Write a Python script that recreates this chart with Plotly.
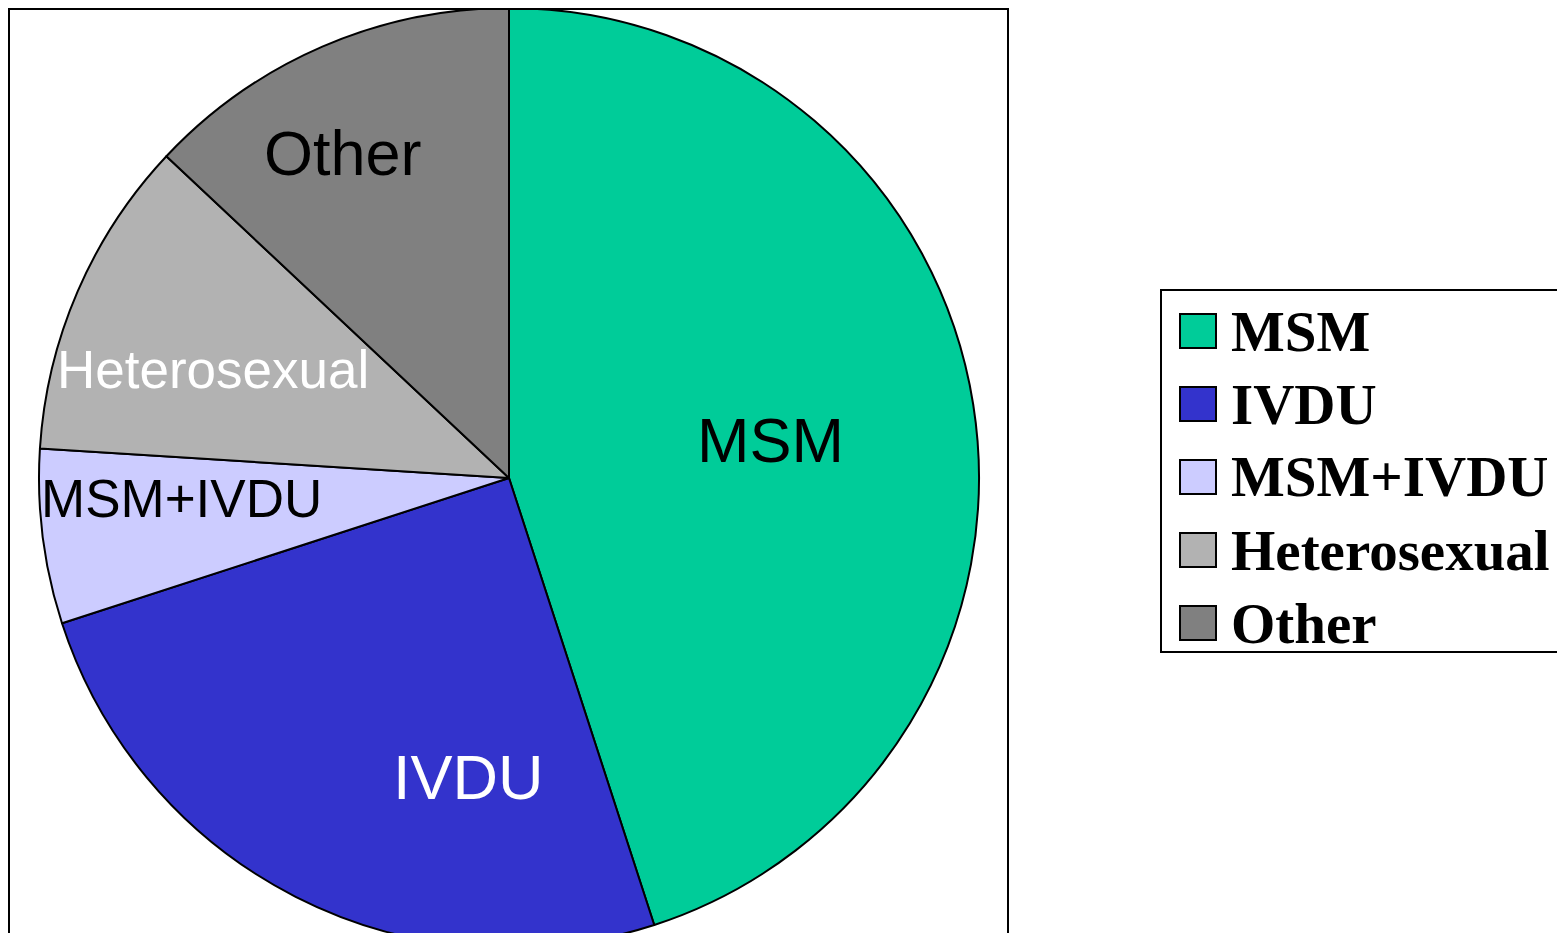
import plotly.graph_objects as go

labels = ["MSM", "IVDU", "MSM+IVDU", "Heterosexual", "Other"]
values = [45, 25, 6, 11, 13]
colors = ["#00CC99", "#3333CC", "#CCCCFF", "#B2B2B2", "#808080"]
label_colors = ["black", "white", "black", "white", "black"]
label_sizes = [63, 63, 53, 53, 63]
# label centres (page pixels)
label_pos = [(770, 440), (468, 777), (181, 498), (213, 370), (343, 153)]

W, H = 1557, 950
OFF = 8
R = 470
CX, CY = 509, 8 + R


def px(x):
    return (x - OFF) / W


def py(y):
    return 1 - (y - OFF) / H


fig = go.Figure()
fig.add_trace(go.Pie(
    labels=labels, values=values, sort=False, direction="clockwise", rotation=0,
    marker=dict(colors=colors, line=dict(color="black", width=2)),
    textinfo="none", hoverinfo="label+percent", showlegend=False,
    domain=dict(x=[px(CX - R), px(CX + R)], y=[py(CY + R), py(CY - R)]),
))

annotations = []
shapes = []
for lab, (x, y), c, s in zip(labels, label_pos, label_colors, label_sizes):
    annotations.append(dict(x=px(x), y=py(y), xref="paper", yref="paper", text=lab,
                            showarrow=False, xanchor="center", yanchor="middle",
                            font=dict(family="Liberation Sans, Arial", size=s, color=c)))

# frame around pie
shapes.append(dict(type="rect", xref="paper", yref="paper", x0=px(9), x1=px(1008), y0=py(9), y1=py(1000),
                   line=dict(color="black", width=2), fillcolor="rgba(0,0,0,0)", layer="above"))

# legend box
shapes.append(dict(type="rect", xref="paper", yref="paper", x0=px(1161), x1=px(1600), y0=py(290), y1=py(652),
                   line=dict(color="black", width=2), fillcolor="rgba(0,0,0,0)"))
row0, step = 331, 73
for i, (lab, c) in enumerate(zip(labels, colors)):
    yc = row0 + i * step
    shapes.append(dict(type="rect", xref="paper", yref="paper", x0=px(1180), x1=px(1216),
                       y0=py(yc - 17), y1=py(yc + 17), fillcolor=c, line=dict(color="black", width=2)))
    annotations.append(dict(x=px(1229), y=py(yc), xref="paper", yref="paper", text="<b>%s</b>" % lab,
                            showarrow=False, xanchor="left", yanchor="middle",
                            font=dict(family="Liberation Serif, Times New Roman", size=57, color="black")))

fig.update_layout(
    width=W, height=H, margin=dict(l=0, r=0, t=0, b=0),
    paper_bgcolor="white", plot_bgcolor="white",
    shapes=shapes, annotations=annotations,
)
fig.write_html("out.html")
